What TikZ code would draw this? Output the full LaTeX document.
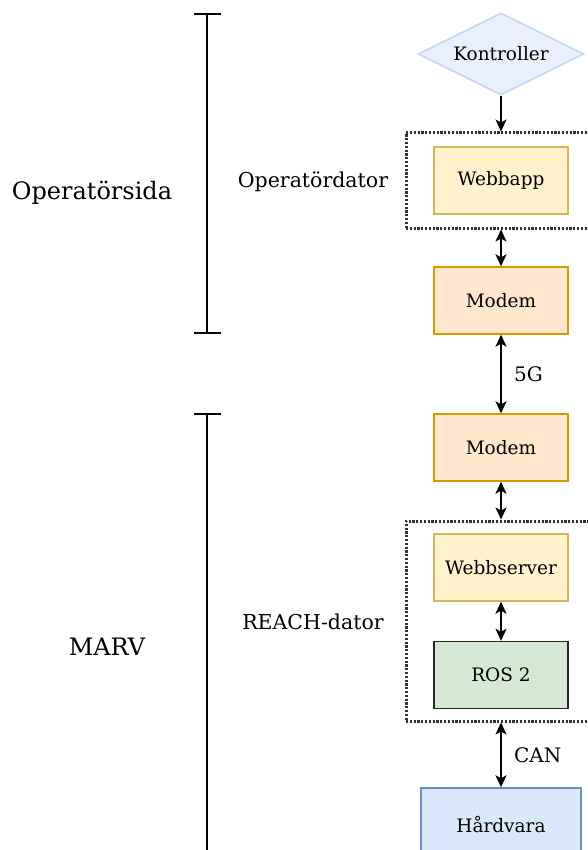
\documentclass[tikz,border=0pt]{standalone}
\usepackage{fontspec}
\setmainfont{DejaVu Serif}
\usetikzlibrary{arrows.meta,shapes.geometric}
\definecolor{ctrlfill}{HTML}{EAF0FB}
\definecolor{ctrldraw}{HTML}{C3D6F4}
\definecolor{yelfill}{HTML}{FFF2CC}
\definecolor{yeldraw}{HTML}{D6B656}
\definecolor{orafill}{HTML}{FFE6CC}
\definecolor{oradraw}{HTML}{D79B00}
\definecolor{grnfill}{HTML}{D5E8D4}
\definecolor{blufill}{HTML}{DAE8FC}
\definecolor{bludraw}{HTML}{6C8EBF}
\tikzset{
  block/.style={rectangle, minimum width=134pt, minimum height=67pt, line width=1.4pt,
    font=\fontsize{18.5}{20}\selectfont},
  dotbox/.style={rectangle, draw=black!80, dash pattern=on 2.2pt off 1.6pt, line width=3pt},
  oneway/.style={-{Stealth[length=12pt,width=11pt,inset=3pt]}, line width=1.6pt},
  link/.style={{Stealth[length=12pt,width=11pt,inset=3pt]}-{Stealth[length=12pt,width=11pt,inset=3pt]}, line width=1.6pt},
  bracket/.style={line width=1.5pt},
}
\begin{document}
\begin{tikzpicture}[x=1pt, y=-1pt]
            \useasboundingbox (0,0) rectangle (587,850);
            % dotted groups
            \node[dotbox, minimum width=214pt, minimum height=95pt] (opbox) at (513,180.5) {};
            \node[dotbox, minimum width=214pt, minimum height=200pt] (reachbox) at (513,621) {};
            % components
            \node[diamond, aspect=2, draw=ctrldraw, fill=ctrlfill, line width=1.6pt, minimum width=166pt, minimum height=82pt, inner sep=0pt,
              font=\fontsize{18.5}{20}\selectfont] (ctrl) at (501,54) {Kontroller};
            \node[block, draw=yeldraw, fill=yelfill] (webapp) at (501,180.5) {Webbapp};
            \node[block, draw=oradraw, fill=orafill] (modemop) at (501,300.5) {Modem};
            \node[block, draw=oradraw, fill=orafill] (modemmarv) at (501,447.5) {Modem};
            \node[block, draw=yeldraw, fill=yelfill] (websrv) at (501,567.5) {Webbserver};
            \node[block, draw=black!85, fill=grnfill] (ros) at (501,675) {ROS 2};
            \node[block, draw=bludraw, fill=blufill, minimum width=160pt, minimum height=72pt] (hw) at (501,824) {Hårdvara};
            % connections
            \draw[oneway] (ctrl.south) -- (ctrl.south |- opbox.north);
            \draw[link] (webapp.south |- opbox.south) -- (modemop.north);
            \draw[link] (modemop.south) -- (modemmarv.north) node[midway, right=9pt, font=\fontsize{20}{22}\selectfont] (fiveg) {5G};
            \draw[link] (modemmarv.south) -- (modemmarv.south |- reachbox.north);
            \draw[link] (websrv.south) -- (ros.north);
            \draw[link] (hw.north |- reachbox.south) -- (hw.north) node[midway, right=9pt, font=\fontsize{20}{22}\selectfont] (can) {CAN};
            % side brackets
            \draw[bracket] (194,14) -- (221,14);
            \draw[bracket] (207,14) -- (207,333);
            \draw[bracket] (194,333) -- (221,333);
            \draw[bracket] (194,414) -- (221,414);
            \draw[bracket] (207,414) -- (207,852);
            % labels
            \node[font=\fontsize{24}{26}\selectfont] (opside) at (92,193) {Operatörsida};
            \node[font=\fontsize{24}{26}\selectfont] (marv) at (107,647) {MARV};
            \node[font=\fontsize{20.5}{22}\selectfont] (opdator) at (313,182) {Operatördator};
            \node[font=\fontsize{20.5}{22}\selectfont] (reachdator) at (313,622) {REACH-dator};
\end{tikzpicture}
\end{document}
